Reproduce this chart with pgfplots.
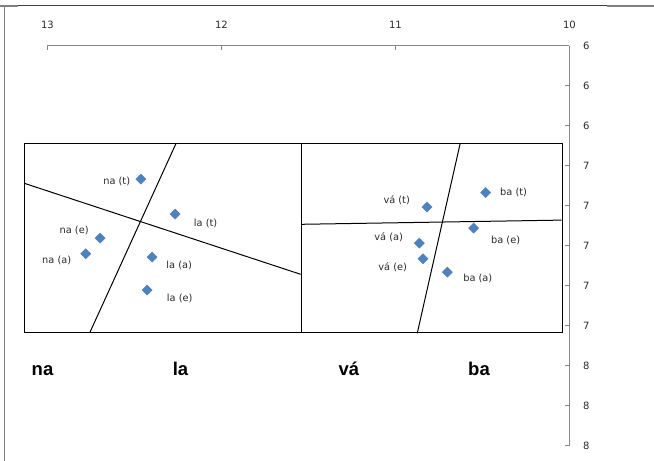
\documentclass[border=0pt]{standalone}
\usepackage{fontspec}
\setmainfont{DejaVu Sans}
\newfontfamily\arialf{Liberation Sans}
\usepackage{pgfplots}
\pgfplotsset{compat=1.18}
\definecolor{axgray}{HTML}{868686}
\definecolor{txtgray}{HTML}{2A2A2A}
\definecolor{mblue}{HTML}{4F81BD}
\definecolor{frdark}{HTML}{404040}
\definecolor{frgray}{HTML}{808080}
\begin{document}
\begin{tikzpicture}
\useasboundingbox (0pt,0pt) rectangle (654pt,-461pt);
\draw[line width=1.5pt, frdark] (18pt,-5.5pt) -- (607pt,-5.5pt);
\draw[line width=1.5pt, frgray] (607pt,-6pt) -- (654pt,-6pt);
\draw[line width=1.5pt, frgray] (0pt,-6pt) -- (18pt,-6pt);
\draw[line width=1.5pt, frgray] (4.5pt,-5pt) -- (4.5pt,-461pt);
\begin{axis}[
  at={(47.5pt,-445.7pt)}, anchor=south west,
  scale only axis, width=522pt, height=400pt,
  xmin=10, xmax=13, ymin=6, ymax=8,
  x dir=reverse, y dir=reverse,
  clip=false,
  axis x line*=top, axis y line*=right,
  axis line style={axgray, line width=1pt, -},
  every tick/.style={axgray, line width=1pt},
  tick align=inside,
  major tick length=4pt,
  xtick={10,11,12,13},
  ytick={6,6.2,6.4,6.6,6.8,7,7.2,7.4,7.6,7.8,8},
  yticklabels={6,6,6,7,7,7,7,7,8,8,8},
  /pgf/number format/assume math mode=true,
  tick label style={font=\fontsize{10}{11}\selectfont, text=txtgray},
  xticklabel style={anchor=south, yshift=13.5pt},
  yticklabel style={anchor=west, xshift=10pt},
]
% boxes
\addplot[black, line width=1pt] coordinates {(13.135,6.488) (10.040,6.488) (10.040,7.433) (13.135,7.433) (13.135,6.488)};
\addplot[black, line width=1pt] coordinates {(11.543,6.488) (11.543,7.433)};
% dividing lines
\addplot[black, line width=1pt] coordinates {(13.133,6.688) (11.545,7.143)};
\addplot[black, line width=1pt] coordinates {(12.261,6.488) (12.756,7.433)};
\addplot[black, line width=1pt] coordinates {(11.543,6.893) (10.045,6.872)};
\addplot[black, line width=1pt] coordinates {(10.629,6.4915) (10.875,7.438)};
% data points
\addplot[only marks, mark=square*, mark size=3.6pt, mark options={rotate=45, fill=mblue, draw=mblue}] coordinates {
(12.463,6.667) (12.267,6.842) (12.697,6.962) (12.780,7.040) (12.399,7.057) (12.428,7.222)
(10.819,6.807) (10.482,6.735) (10.551,6.912) (10.863,6.987) (10.842,7.065) (10.702,7.132)};
% labels
\begin{scope}[every node/.style={font=\fontsize{9.8}{11}\selectfont, text=txtgray, inner sep=0pt}]
\node at (axis cs:12.602,6.678) {na (t)};
\node at (axis cs:12.091,6.888) {la (t)};
\node at (axis cs:12.847,6.925) {na (e)};
\node at (axis cs:12.947,7.075) {na (a)};
\node at (axis cs:12.243,7.100) {la (a)};
\node at (axis cs:12.240,7.262) {la (e)};
\node at (axis cs:10.993,6.772) {vá (t)};
\node at (axis cs:10.321,6.735) {ba (t)};
\node at (axis cs:10.367,6.972) {ba (e)};
\node at (axis cs:11.039,6.958) {vá (a)};
\node at (axis cs:11.016,7.108) {vá (e)};
\node at (axis cs:10.527,7.162) {ba (a)};
\end{scope}
\end{axis}
\begin{scope}[every node/.style={font=\arialf\bfseries\fontsize{18.5}{20}\selectfont, anchor=base, inner sep=0pt}]
\node at (42.5pt,-375.7pt) {na};
\node at (180.5pt,-375.7pt) {la};
\node at (349pt,-375.7pt) {vá};
\node at (479pt,-375.7pt) {ba};
\end{scope}
\end{tikzpicture}
\end{document}
